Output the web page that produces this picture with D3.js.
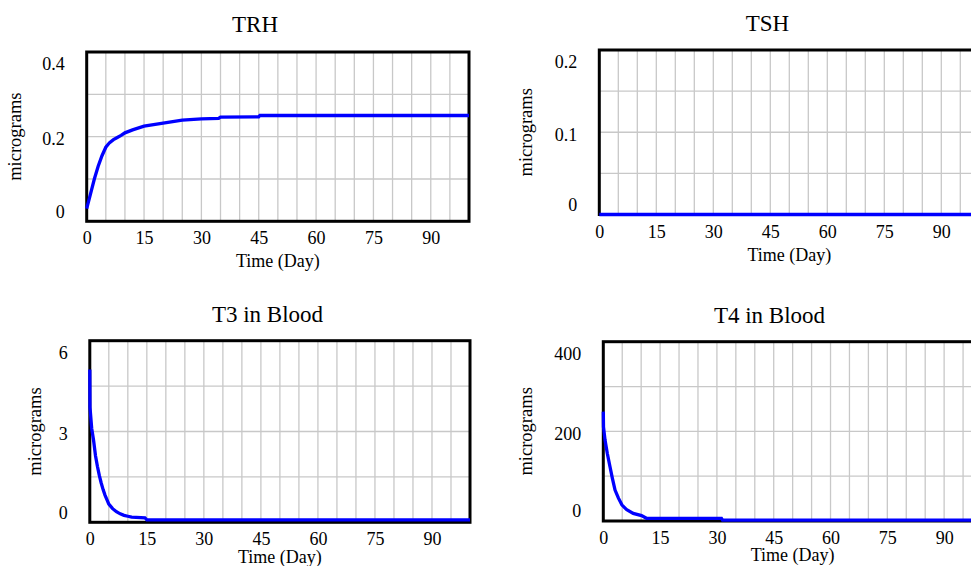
<!DOCTYPE html>
<html>
<head>
<meta charset="utf-8">
<script src="https://cdn.jsdelivr.net/npm/d3@7"></script>
<style>
  body { margin: 0; background: #fff; }
  svg { display: block; font-family: "Liberation Serif", "Times New Roman", serif; }
</style>
</head>
<body>
<div id="chart"></div>
<script>
// tick labels and titles
const panelTitles = ["TRH", "TSH", "T3 in Blood", "T4 in Blood"];
const xTicks = [0, 15, 30, 45, 60, 75, 90];
const yTicks = [[0, 0.2, 0.4], [0, 0.1, 0.2], [0, 3, 6], [0, 200, 400]];
const yMax = [0.4, 0.2, 6, 400];

// series
const trhDays   = [0, 1, 2, 3, 4, 5, 6, 7, 8, 9, 10, 12, 15, 20, 25, 30, 34.5, 35, 45, 45.3, 100];
const trhValues = [0.03, 0.065, 0.1, 0.13, 0.155, 0.175, 0.186, 0.193, 0.198, 0.203, 0.209, 0.216, 0.225, 0.232, 0.239, 0.242, 0.243, 0.246, 0.247, 0.25, 0.25];
const tshDays   = [0, 100];
const tshValues = [0, 0];
const t3Days    = [0, 0.05, 0.5, 1, 1.5, 2, 2.5, 3, 3.5, 4, 4.5, 5, 6, 7, 8, 9, 10, 11, 14.5, 15, 100];
const t3Values  = [5.05, 3.8, 3.1, 2.7, 2.2, 1.85, 1.55, 1.3, 1.08, 0.9, 0.75, 0.6, 0.45, 0.35, 0.28, 0.23, 0.2, 0.17, 0.15, 0.08, 0.08];
const t4Days    = [0, 0.05, 0.45, 1.05, 1.77, 2.4, 3.1, 4, 4.9, 6.2, 7.9, 10.1, 11.4, 31.2, 31.5, 100];
const t4Values  = [244, 210, 181, 151, 121, 95, 69, 51, 36, 25, 17, 12, 6, 6, 2, 2];

const seriesDays = [trhDays, tshDays, t3Days, t4Days];
const seriesValues = [trhValues, tshValues, t3Values, t4Values];

// plot box of each panel
const layout = [
  { L: 86.7,  R: 469,   T: 52,    B: 221.3, titleX: 255,   titleY: 31.5,  labX: 15,    xlabY: 45.5 },
  { L: 599.3, R: 979.3, T: 50,    B: 214.5, titleX: 767.5, titleY: 30.5,  labX: 525.7, xlabY: 46 },
  { L: 89.8,  R: 470,   T: 340.7, B: 522.3, titleX: 267.5, titleY: 322.3, labX: 35,    xlabY: 40.5 },
  { L: 603.3, R: 982,   T: 341.7, B: 521,   titleX: 769.5, titleY: 323.3, labX: 526.3, xlabY: 39.5 }
];

const w = 971, h = 566;
const svg = d3.select("#chart").append("svg")
    .attr("width", w)
    .attr("height", h);

panelTitles.forEach((title, i) => {
    const p = layout[i];
    const x = d3.scaleLinear().domain([0, 100]).range([p.L, p.R]);
    const y = d3.scaleLinear().domain([0, yMax[i]]).range([p.B, p.T]);
    const g = svg.append("g");

    // grid
    g.append("g")
        .attr("stroke", "#c8c8c8")
        .attr("stroke-width", 1.3)
        .selectAll("line")
        .data(d3.range(5, 100, 5))
        .join("line")
        .attr("x1", d => x(d))
        .attr("x2", d => x(d))
        .attr("y1", p.T)
        .attr("y2", p.B);

    g.append("g")
        .attr("stroke", "#c8c8c8")
        .attr("stroke-width", 1.3)
        .selectAll("line")
        .data([1, 2, 3].map(k => k * yMax[i] / 4))
        .join("line")
        .attr("x1", p.L)
        .attr("x2", p.R)
        .attr("y1", d => y(d))
        .attr("y2", d => y(d));

    // frame
    g.append("rect")
        .attr("x", p.L)
        .attr("y", p.T)
        .attr("width", p.R - p.L)
        .attr("height", p.B - p.T)
        .attr("fill", "none")
        .attr("stroke", "#000")
        .attr("stroke-width", 3);

    // series
    const pts = seriesDays[i].map((d, k) => [d, seriesValues[i][k]]);
    g.append("path")
        .datum(pts)
        .attr("fill", "none")
        .attr("stroke", "#0000ff")
        .attr("stroke-width", 3.3)
        .attr("d", d3.line().x(d => x(d[0])).y(d => y(d[1])));

    // x axis labels
    g.append("g")
        .attr("transform", `translate(0,${p.B})`)
        .call(d3.axisBottom(x).tickValues(xTicks).tickSize(0).tickPadding(0))
        .call(a => a.select(".domain").remove())
        .call(a => a.selectAll("text")
            .attr("y", 23).attr("dy", null)
            .attr("fill", "#000")
            .style("font-size", "18px")
            .style("font-family", "Liberation Serif"));

    // y axis labels (end labels pulled inside the frame)
    const nT = yTicks[i].length;
    g.append("g")
        .attr("transform", `translate(${p.L - 22},0)`)
        .call(d3.axisLeft(y).tickValues(yTicks[i]).tickSize(0).tickPadding(0)
            .tickFormat(d3.format("~g")))
        .call(a => a.select(".domain").remove())
        .call(a => a.selectAll("text")
            .attr("x", 0)
            .attr("dy", (d, k) => (k === 0 ? -10.5 : k === nT - 1 ? 11.5 : 1.5) + 6.3)
            .attr("fill", "#000")
            .style("font-size", "18px")
            .style("font-family", "Liberation Serif"));

    // titles
    g.append("text")
        .attr("x", p.titleX)
        .attr("y", p.titleY)
        .attr("text-anchor", "middle")
        .style("font-size", "23px")
        .text(title);

    g.append("text")
        .attr("x", (p.L + p.R) / 2)
        .attr("y", p.B + p.xlabY)
        .attr("text-anchor", "middle")
        .style("font-size", "18px")
        .text("Time (Day)");

    g.append("text")
        .attr("transform", `translate(${p.labX + 6},${(p.T + p.B) / 2}) rotate(-90)`)
        .attr("text-anchor", "middle")
        .style("font-size", "18.5px")
        .text("micrograms");
});
</script>
</body>
</html>
